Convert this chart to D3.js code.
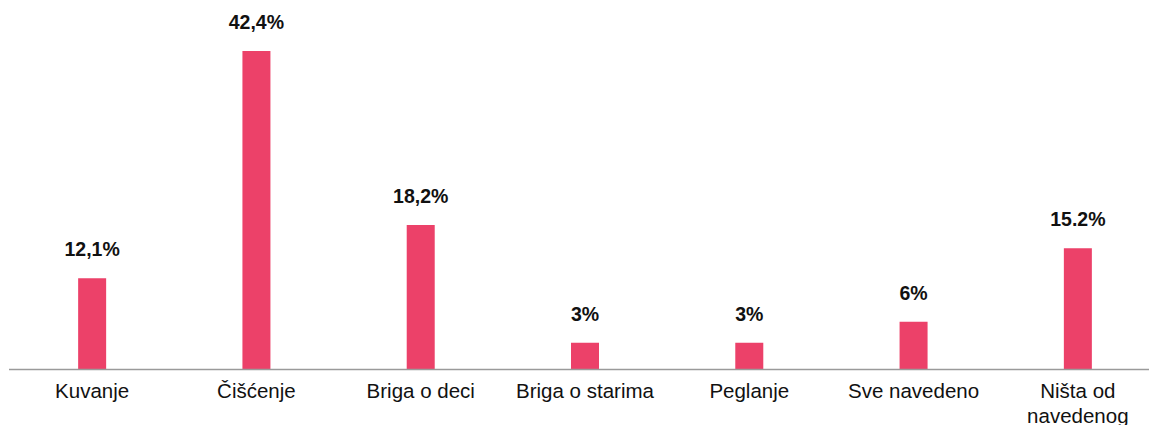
<!DOCTYPE html>
<html>
<head>
<meta charset="utf-8">
<script src="https://cdn.jsdelivr.net/npm/d3@7"></script>
<style>
  body { margin: 0; background: #fff; }
  svg { display: block; font-family: 'Liberation Sans', Arial, sans-serif; }
</style>
</head>
<body>
<svg width="1149" height="425"></svg>
<script>
// categories (line-broken where the original wraps)
const categories = [
  ['Kuvanje'],
  ['Čišćenje'],
  ['Briga o deci'],
  ['Briga o starima'],
  ['Peglanje'],
  ['Sve navedeno'],
  ['Ništa od', 'navedenog']
]
// bar heights as drawn in the picture (percent)
const values = [12.1, 42.4, 19.2, 3.5, 3.5, 6.3, 16.1]
// printed value labels
const labels = ['12,1%', '42,4%', '18,2%', '3%', '3%', '6%', '15.2%']

const svg = d3.select('svg'),
  width = +svg.attr('width'),
  baseY = 369

const x = d3.scaleBand()
  .domain(d3.range(categories.length))
  .range([10, 1160])

const y = d3.scaleLinear()
  .domain([0, 42.4])
  .range([baseY, 51])

const barW = 28

// bars
svg.selectAll('.bar')
  .data(values)
  .enter()
  .append('rect')
  .attr('class', 'bar')
  .attr('x', (d, i) => x(i) + x.bandwidth() / 2 - barW / 2)
  .attr('y', (d) => y(d))
  .attr('width', barW)
  .attr('height', (d) => baseY - y(d))
  .style('fill', '#ec4169')

// baseline
svg.append('line')
  .attr('x1', 9)
  .attr('x2', width)
  .attr('y1', baseY + 0.5)
  .attr('y2', baseY + 0.5)
  .style('stroke', '#9a9a9a')
  .style('stroke-width', 1.5)

// value labels
svg.selectAll('.val')
  .data(values)
  .enter()
  .append('text')
  .attr('class', 'val')
  .attr('x', (d, i) => x(i) + x.bandwidth() / 2)
  .attr('y', (d) => y(d) - 22)
  .attr('text-anchor', 'middle')
  .style('font-size', '19.5px')
  .style('font-weight', 'bold')
  .style('fill', '#111')
  .text((d, i) => labels[i])

// category labels
const cat = svg.selectAll('.cat')
  .data(categories)
  .enter()
  .append('text')
  .attr('class', 'cat')
  .attr('x', (d, i) => x(i) + x.bandwidth() / 2)
  .attr('y', 398)
  .attr('text-anchor', 'middle')
  .style('font-size', '20.5px')
  .style('fill', '#111')

cat.selectAll('tspan')
  .data((d) => d)
  .enter()
  .append('tspan')
  .attr('x', function () { return d3.select(this.parentNode).attr('x') })
  .attr('dy', (d, i) => (i === 0 ? 0 : 25))
  .text((d) => d)
</script>
</body>
</html>
